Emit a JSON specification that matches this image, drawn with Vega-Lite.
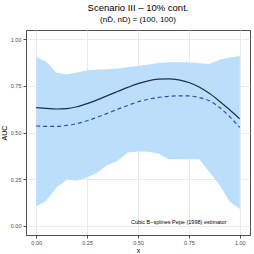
{
  "$schema": "https://vega.github.io/schema/vega-lite/v6.json",
  "width": 224,
  "height": 205,
  "autosize": {"type": "none"},
  "padding": {"left": 26, "top": 30, "right": 4, "bottom": 19},
  "background": "white",
  "title": {
    "text": "Scenario III – 10% cont.",
    "subtitle": "(nD̄, nD) = (100, 100)",
    "anchor": "middle",
    "frame": "group",
    "font": "Liberation Sans",
    "fontSize": 9.5,
    "fontWeight": "normal",
    "color": "#000000",
    "subtitleFont": "Liberation Sans",
    "subtitleFontSize": 8,
    "subtitleColor": "#000000",
    "subtitlePadding": 4,
    "offset": 6
  },
  "config": {
    "view": {"stroke": "#4d4d4d", "strokeWidth": 1},
    "axis": {
      "labelFont": "Liberation Sans",
      "labelFontSize": 5.5,
      "labelColor": "#4d4d4d",
      "titleFont": "Liberation Sans",
      "titleFontSize": 7,
      "titleFontWeight": "normal",
      "titleColor": "#000000",
      "domainColor": "#4d4d4d",
      "tickColor": "#4d4d4d",
      "tickSize": 3
    }
  },
  "datasets": {
    "band": [
      {"x": 0.0, "lo": 0.103, "hi": 0.905},
      {"x": 0.05, "lo": 0.135, "hi": 0.88},
      {"x": 0.1, "lo": 0.205, "hi": 0.82},
      {"x": 0.15, "lo": 0.247, "hi": 0.811},
      {"x": 0.2, "lo": 0.242, "hi": 0.822},
      {"x": 0.25, "lo": 0.258, "hi": 0.834},
      {"x": 0.3, "lo": 0.285, "hi": 0.838},
      {"x": 0.35, "lo": 0.325, "hi": 0.84},
      {"x": 0.4, "lo": 0.348, "hi": 0.843},
      {"x": 0.45, "lo": 0.393, "hi": 0.85},
      {"x": 0.5, "lo": 0.398, "hi": 0.857},
      {"x": 0.55, "lo": 0.397, "hi": 0.865},
      {"x": 0.6, "lo": 0.387, "hi": 0.873},
      {"x": 0.65, "lo": 0.357, "hi": 0.877},
      {"x": 0.7, "lo": 0.356, "hi": 0.877},
      {"x": 0.75, "lo": 0.356, "hi": 0.877},
      {"x": 0.8, "lo": 0.357, "hi": 0.872},
      {"x": 0.85, "lo": 0.29, "hi": 0.868},
      {"x": 0.9, "lo": 0.22, "hi": 0.89},
      {"x": 0.95, "lo": 0.13, "hi": 0.903},
      {"x": 1.0, "lo": 0.09, "hi": 0.91}
    ],
    "lines": [
      {"x": 0.0, "auc": 0.633, "series": "true"},
      {"x": 0.05, "auc": 0.629, "series": "true"},
      {"x": 0.1, "auc": 0.626, "series": "true"},
      {"x": 0.15, "auc": 0.628, "series": "true"},
      {"x": 0.2, "auc": 0.638, "series": "true"},
      {"x": 0.25, "auc": 0.655, "series": "true"},
      {"x": 0.3, "auc": 0.675, "series": "true"},
      {"x": 0.35, "auc": 0.698, "series": "true"},
      {"x": 0.4, "auc": 0.72, "series": "true"},
      {"x": 0.45, "auc": 0.742, "series": "true"},
      {"x": 0.5, "auc": 0.762, "series": "true"},
      {"x": 0.55, "auc": 0.777, "series": "true"},
      {"x": 0.6, "auc": 0.786, "series": "true"},
      {"x": 0.65, "auc": 0.788, "series": "true"},
      {"x": 0.7, "auc": 0.782, "series": "true"},
      {"x": 0.75, "auc": 0.768, "series": "true"},
      {"x": 0.8, "auc": 0.744, "series": "true"},
      {"x": 0.85, "auc": 0.71, "series": "true"},
      {"x": 0.9, "auc": 0.668, "series": "true"},
      {"x": 0.95, "auc": 0.622, "series": "true"},
      {"x": 1.0, "auc": 0.573, "series": "true"},
      {"x": 0.0, "auc": 0.535, "series": "est"},
      {"x": 0.05, "auc": 0.533, "series": "est"},
      {"x": 0.1, "auc": 0.533, "series": "est"},
      {"x": 0.15, "auc": 0.538, "series": "est"},
      {"x": 0.2, "auc": 0.548, "series": "est"},
      {"x": 0.25, "auc": 0.563, "series": "est"},
      {"x": 0.3, "auc": 0.582, "series": "est"},
      {"x": 0.35, "auc": 0.603, "series": "est"},
      {"x": 0.4, "auc": 0.625, "series": "est"},
      {"x": 0.45, "auc": 0.645, "series": "est"},
      {"x": 0.5, "auc": 0.665, "series": "est"},
      {"x": 0.55, "auc": 0.678, "series": "est"},
      {"x": 0.6, "auc": 0.688, "series": "est"},
      {"x": 0.65, "auc": 0.694, "series": "est"},
      {"x": 0.7, "auc": 0.697, "series": "est"},
      {"x": 0.75, "auc": 0.696, "series": "est"},
      {"x": 0.8, "auc": 0.688, "series": "est"},
      {"x": 0.85, "auc": 0.67, "series": "est"},
      {"x": 0.9, "auc": 0.635, "series": "est"},
      {"x": 0.95, "auc": 0.585, "series": "est"},
      {"x": 1.0, "auc": 0.527, "series": "est"}
    ],
    "note": [
      {"x": 0.7, "y": 0.02, "label": "Cubic B−splines Pepe (1998) estimator"}
    ]
  },
  "layer": [
    {
      "data": {"name": "band"},
      "mark": {"type": "area", "color": "#bbdefb", "opacity": 1},
      "encoding": {
        "x": {
          "field": "x", "type": "quantitative",
          "scale": {"domain": [-0.05, 1.05], "nice": false, "zero": false},
          "axis": {
            "title": "x",
            "values": [0, 0.125, 0.25, 0.375, 0.5, 0.625, 0.75, 0.875, 1],
            "labelExpr": "(datum.value * 4) % 1 == 0 ? format(datum.value, '.2f') : ''",
            "tickOpacity": {"condition": {"test": "(datum.value * 4) % 1 != 0", "value": 0}, "value": 1},
            "gridColor": "#ebebeb",
            "gridWidth": {"condition": {"test": "(datum.value * 4) % 1 != 0", "value": 0.5}, "value": 1},
            "titlePadding": 1,
            "labelPadding": 2
          }
        },
        "y": {
          "field": "lo", "type": "quantitative",
          "scale": {"domain": [-0.05, 1.05], "nice": false, "zero": false},
          "axis": {
            "title": "AUC",
            "values": [0, 0.125, 0.25, 0.375, 0.5, 0.625, 0.75, 0.875, 1],
            "labelExpr": "(datum.value * 4) % 1 == 0 ? format(datum.value, '.2f') : ''",
            "tickOpacity": {"condition": {"test": "(datum.value * 4) % 1 != 0", "value": 0}, "value": 1},
            "gridColor": "#ebebeb",
            "gridWidth": {"condition": {"test": "(datum.value * 4) % 1 != 0", "value": 0.5}, "value": 1},
            "titlePadding": 3,
            "labelPadding": 2
          }
        },
        "y2": {"field": "hi"}
      }
    },
    {
      "data": {"name": "lines"},
      "transform": [{"filter": "datum.series == 'true'"}],
      "mark": {"type": "line", "color": "#1c2f4d", "strokeWidth": 1.2, "interpolate": "monotone"},
      "encoding": {
        "x": {"field": "x", "type": "quantitative"},
        "y": {"field": "auc", "type": "quantitative"}
      }
    },
    {
      "data": {"name": "lines"},
      "transform": [{"filter": "datum.series == 'est'"}],
      "mark": {"type": "line", "color": "#2a4bbd", "strokeWidth": 1.2, "strokeDash": [4, 3], "interpolate": "monotone"},
      "encoding": {
        "x": {"field": "x", "type": "quantitative"},
        "y": {"field": "auc", "type": "quantitative"}
      }
    },
    {
      "data": {"name": "note"},
      "mark": {"type": "text", "font": "Liberation Sans", "fontSize": 5.5, "color": "#000000", "align": "center", "baseline": "middle"},
      "encoding": {
        "x": {"field": "x", "type": "quantitative"},
        "y": {"field": "y", "type": "quantitative"},
        "text": {"field": "label"}
      }
    }
  ]
}
